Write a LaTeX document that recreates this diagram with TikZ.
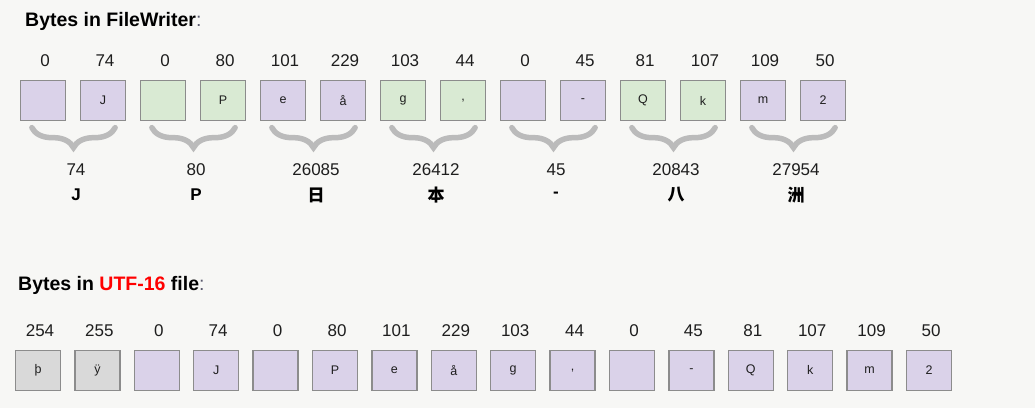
\documentclass[tikz,border=0pt]{standalone}
\usepackage{fontspec}
\setmainfont{Liberation Sans}
\newfontfamily\cjk{Noto Sans CJK SC}
\usetikzlibrary{calc}
\usetikzlibrary{decorations.pathreplacing}
\definecolor{bgpaper}{RGB}{247,247,245}
\definecolor{lilac}{RGB}{218,210,233}
\definecolor{mint}{RGB}{217,234,211}
\definecolor{ash}{RGB}{217,217,217}
\definecolor{edge}{RGB}{140,140,140}
\definecolor{bracegray}{RGB}{187,187,187}
\definecolor{ink}{RGB}{30,30,30}
\definecolor{colon}{RGB}{90,90,110}

\begin{document}
\begin{tikzpicture}[x=1pt, y=-1pt,
  byte/.style={draw=edge, line width=1.3pt, minimum width=45pt, minimum height=40pt,
    inner sep=0pt, font=\fontsize{12.5}{12.5}\selectfont, text=ink},
  num/.style={font=\fontsize{17}{17}\selectfont, text=ink, xshift=2pt},
  glyph/.style={font=\fontsize{17}{17}\selectfont\bfseries, text=black, xshift=3pt},
  pair/.style={decorate, decoration={brace, mirror, amplitude=20pt}, draw=bracegray,
    line width=5.5pt, line cap=round},
  title/.style={anchor=base west, inner sep=0pt, font=\fontsize{19.5}{19.5}\selectfont}]
\fill[bgpaper] (0,0) rectangle (1035,408);

% what FileWriter writes
\node[title] (head1) at (25,26.7) {\textbf{Bytes in FileWriter}\textcolor{colon}{:}};
\foreach \v/\c/\col [count=\i from 0] in {0/{}/lilac, 74/J/lilac, 0/{}/mint, 80/P/mint,
  101/e/lilac, 229/å/lilac, 103/g/mint, 44/{,}/mint, 0/{}/lilac, 45/-/lilac,
  81/Q/mint, 107/k/mint, 109/m/lilac, 50/2/lilac} {
 \node[byte, fill=\col] (t\i) at (43+60*\i,100.5) {\c};
 \node[num] (tv\i) at (43+60*\i,61) {\v};
}
\foreach \n/\g [count=\k from 0] in {74/J, 80/P, 26085/{\cjk 日}, 26412/{\cjk 本},
  45/-, 20843/{\cjk 八}, 27954/{\cjk 洲}} {
 \pgfmathtruncatemacro\a{2*\k}
 \pgfmathtruncatemacro\b{2*\k+1}
 \draw[pair] ($(t\a.south west)+(12,6.5)$) -- ($(t\b.south east)+(-11,6.5)$);
 \node[num] (cv\k) at ($(t\a)!0.5!(t\b)+(1,69.5)$) {\n};
 \node[glyph] (cg\k) at ($(t\a)!0.5!(t\b)+(0,94.5)$) {\g};
}

% the UTF-16 file
\node[title] (head2) at (18,290) {\textbf{Bytes in \textcolor{red}{UTF-16} file}\textcolor{colon}{:}};
\foreach \v/\c/\col [count=\i from 0] in {254/þ/ash, 255/ÿ/ash, 0/{}/lilac, 74/J/lilac,
  0/{}/lilac, 80/P/lilac, 101/e/lilac, 229/å/lilac, 103/g/lilac, 44/{,}/lilac,
  0/{}/lilac, 45/-/lilac, 81/Q/lilac, 107/k/lilac, 109/m/lilac, 50/2/lilac} {
 \node[byte, fill=\col] (u\i) at (38+59.4*\i,370.3) {\c};
 \node[num] (uv\i) at (38+59.4*\i,331) {\v};
}
\end{tikzpicture}
\end{document}
